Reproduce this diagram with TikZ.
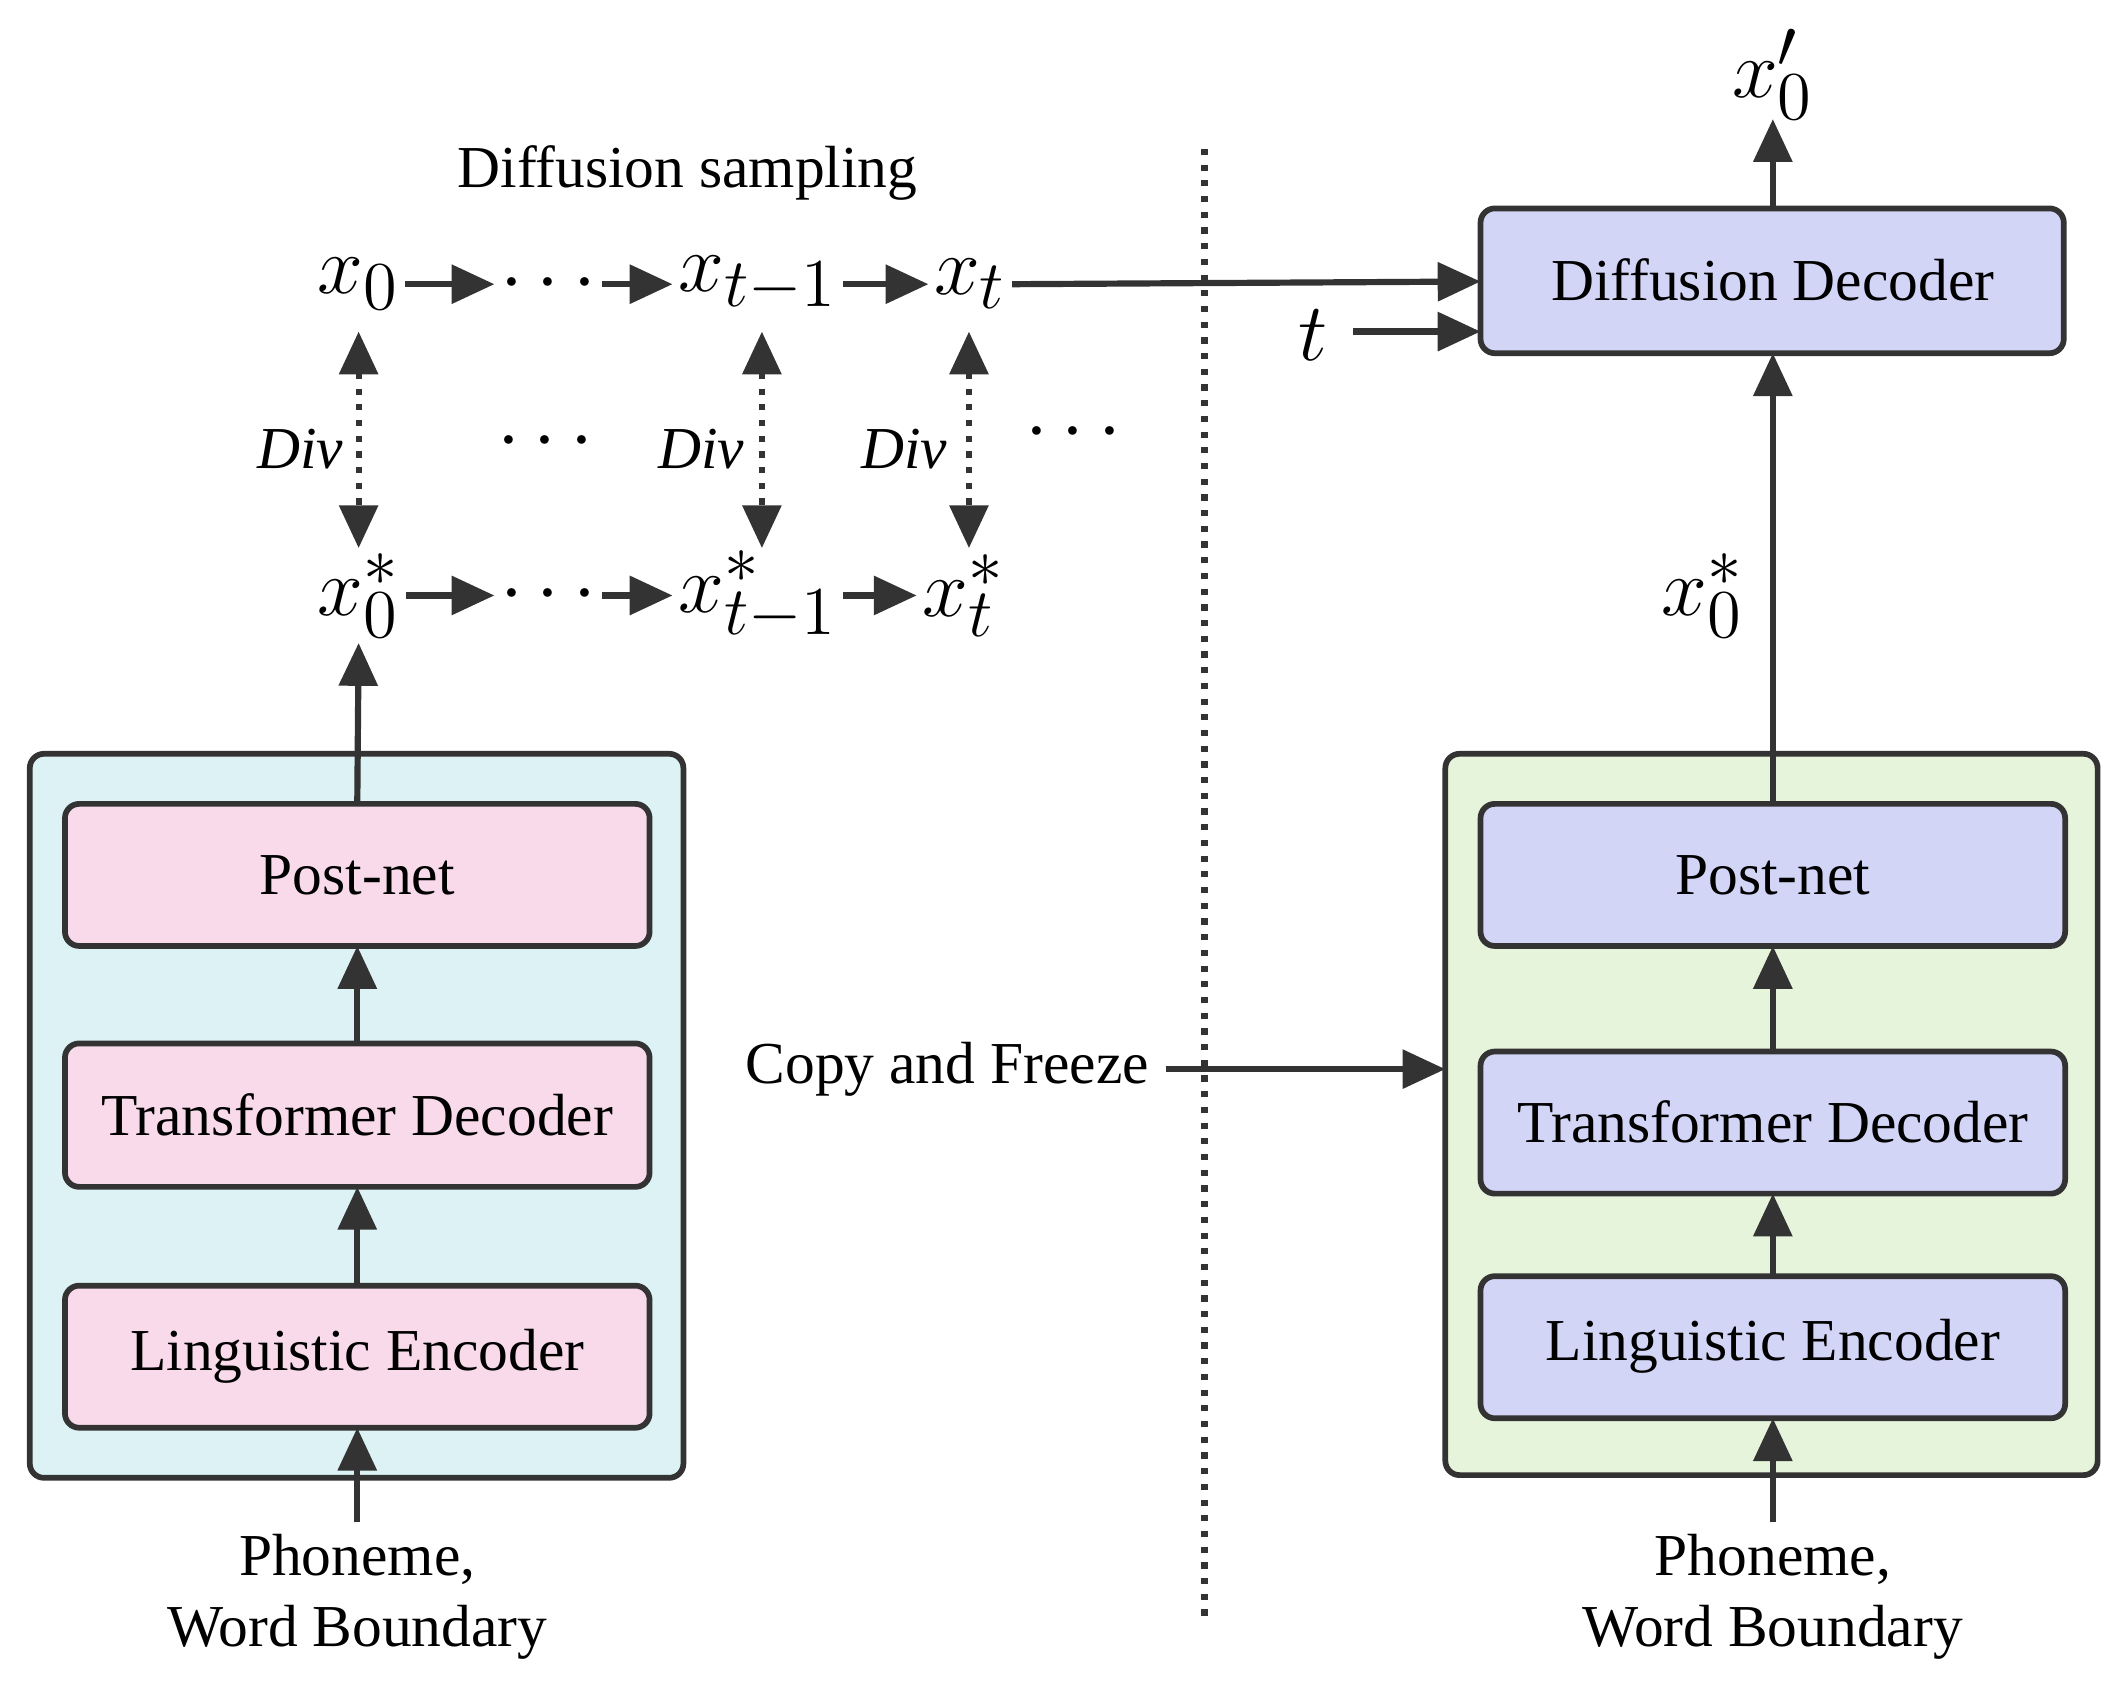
\documentclass[tikz,border=0pt]{standalone}
\usepackage{fontspec}
\setmainfont{Liberation Serif}
\usetikzlibrary{arrows.meta}
\definecolor{cyanbg}{HTML}{DCF2F4}
\definecolor{pinkbx}{HTML}{F8DAEA}
\definecolor{greenbg}{HTML}{E5F4DA}
\definecolor{lavbx}{HTML}{D2D5F6}
\definecolor{ink}{HTML}{333333}
\begin{document}
\begin{tikzpicture}[x=0.01cm,y=-0.01cm,
  box/.style={draw=ink,line width=1.2pt,rounded corners=3pt},
  lbl/.style={font=\fontsize{12.5}{15}\selectfont},
  dv/.style={font=\fontsize{12.5}{15}\selectfont\itshape},
  mx/.style={font=\fontsize{19}{22}\selectfont,inner sep=1pt},
  arr/.style={draw=ink,line width=1.3pt,-{Triangle[length=9pt,width=8pt]}},
  darr/.style={draw=ink,line width=1.3pt,dotted,{Triangle[length=9pt,width=8pt]}-{Triangle[length=9pt,width=8pt]}}]
\useasboundingbox (0,0) rectangle (1568,1248);
% left
\path[box,fill=cyanbg] (22,557) rectangle (505,1092);
\path[box,fill=pinkbx] (48,594) rectangle (480,699);
\node[lbl] (lpn) at (264,647) {Post-net};
\path[box,fill=pinkbx] (48,771) rectangle (480,877);
\node[lbl] (ltd) at (264,824) {Transformer Decoder};
\path[box,fill=pinkbx] (48,950) rectangle (480,1055);
\node[lbl] (lle) at (264,1002) {Linguistic Encoder};
\node[lbl,align=center] (lph) at (264,1180) {Phoneme,\\Word Boundary};
\draw[arr] (264,1125) -- (264,1055);
\draw[arr] (264,950) -- (264,877);
\draw[arr] (264,771) -- (264,699);
% right
\path[box,fill=greenbg] (1068,557) rectangle (1550,1090);
\path[box,fill=lavbx] (1094,594) rectangle (1526,699);
\node[lbl] (rpn) at (1310,647) {Post-net};
\path[box,fill=lavbx] (1094,777) rectangle (1526,882);
\node[lbl] (rtd) at (1310,829) {Transformer Decoder};
\path[box,fill=lavbx] (1094,943) rectangle (1526,1048);
\node[lbl] (rle) at (1310,995) {Linguistic Encoder};
\node[lbl,align=center] (rph) at (1310,1180) {Phoneme,\\Word Boundary};
\draw[arr] (1310,1125) -- (1310,1048);
\draw[arr] (1310,943) -- (1310,882);
\draw[arr] (1310,777) -- (1310,699);
\path[box,fill=lavbx] (1094,154) rectangle (1525,261);
\node[lbl] (dd) at (1310,207) {Diffusion Decoder};
\draw[arr] (1310,594) -- (1310,261);
\node[mx] (rxs) at (1258,440) {$x_0^*$};
\draw[arr] (1310,154) -- (1310,88);
\node[mx] (xp) at (1310,55) {$x_0'$};
\node[mx] (t) at (970,248) {$t$};
\draw[arr] (1000,245) -- (1094,245);
% sampling
\node[lbl] at (508,128) {Diffusion sampling};
\node[mx] (a0) at (265,210) {$x_0$};
\node[mx] (ad) at (405,210) {$\cdots$};
\node[mx] (a1) at (560,210) {$x_{t-1}$};
\node[mx] (at) at (717,210) {$x_t$};
\node[mx] (b0) at (265,440) {$x_0^*$};
\node[mx] (bd) at (405,440) {$\cdots$};
\node[mx] (b1) at (560,440) {$x_{t-1}^*$};
\node[mx] (bt) at (712,440) {$x_t^*$};
\foreach \p/\q in {a0/ad,ad/a1,a1/at}
  \draw[arr] (\p.east |- 0,210) -- (\q.west |- 0,210);
\foreach \p/\q in {b0/bd,bd/b1,b1/bt}
  \draw[arr] (\p.east |- 0,440) -- (\q.west |- 0,440);
\draw[arr] (at.east) -- (1094,208);
\draw[arr] (264,594) -- (b0.south);
\draw[darr] (265,245) -- (265,405);
\draw[darr] (563,245) -- (563,405);
\draw[darr] (716,245) -- (716,405);
\node[dv] at (222,332) {Div};
\node[dv] at (518,332) {Div};
\node[dv] at (668,332) {Div};
\node[mx] at (403,327) {$\cdots$};
\node[mx] at (793,320) {$\cdots$};
\draw[ink,line width=1.3pt,dotted] (890,110) -- (890,1200);
\node[lbl] (cf) at (700,790) {Copy and Freeze};
\draw[arr] (cf.east) -- (1068,790);
\end{tikzpicture}
\end{document}
